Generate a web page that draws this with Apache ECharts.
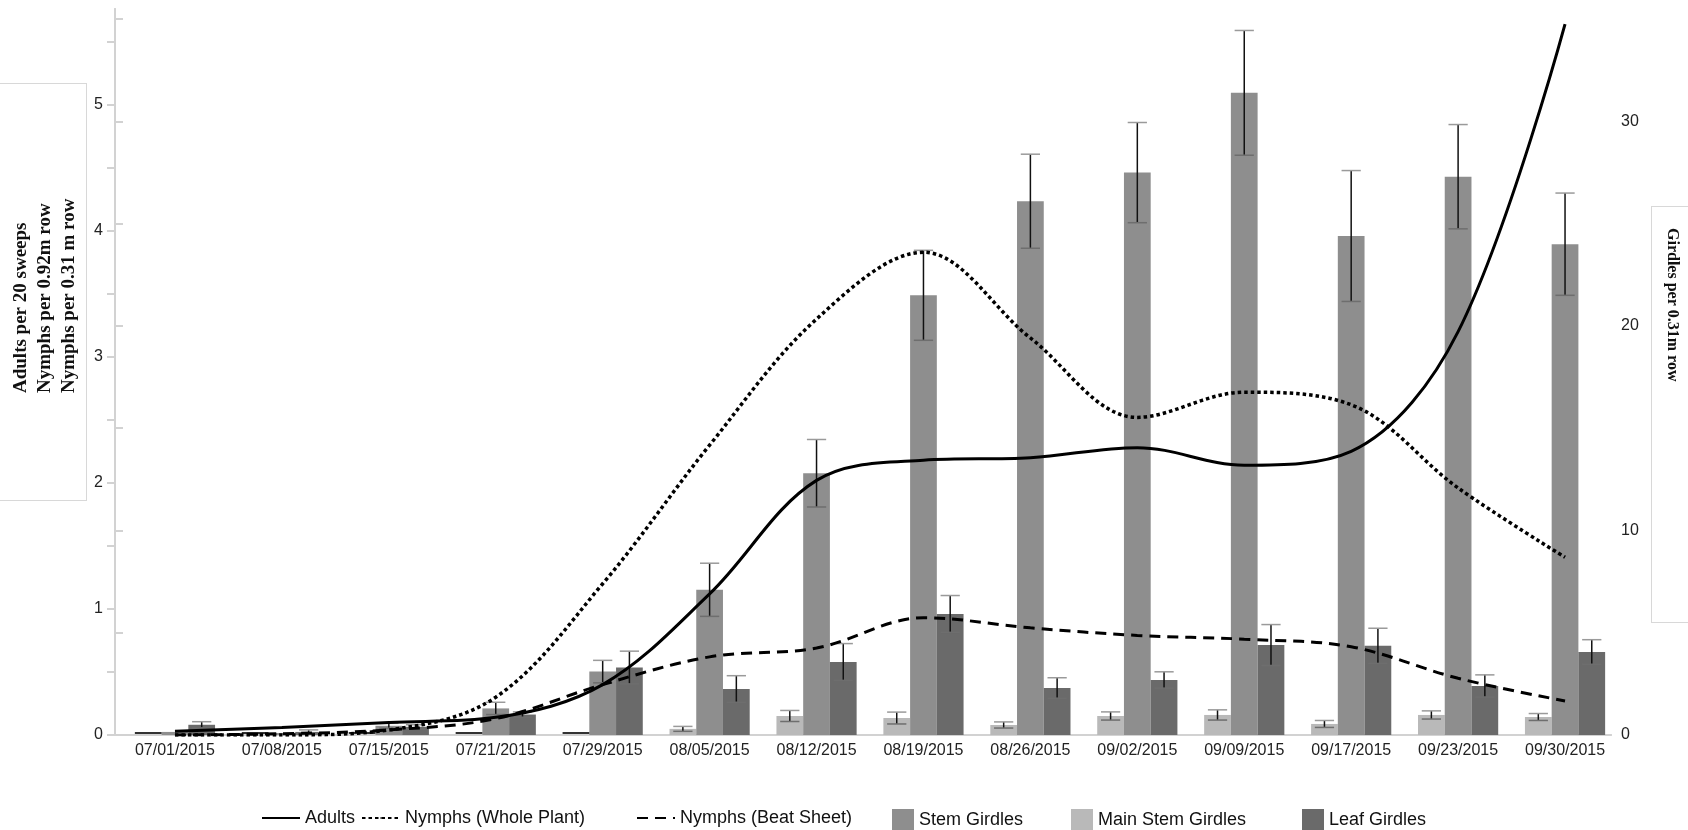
<!DOCTYPE html>
<html><head><meta charset="utf-8">
<script src="https://cdn.jsdelivr.net/npm/echarts@6/dist/echarts.min.js"></script>
<style>html,body{margin:0;padding:0;background:#fff}#c{width:1688px;height:830px}</style>
</head><body><div id="c"></div>
<script>
// ---- data ----
const dates = ['07/01/2015','07/08/2015','07/15/2015','07/21/2015','07/29/2015','08/05/2015','08/12/2015','08/19/2015','08/26/2015','09/02/2015','09/09/2015','09/17/2015','09/23/2015','09/30/2015'];
// left axis (insects)
const adults      = [0.03, 0.06, 0.10, 0.14, 0.40, 1.12, 2.02, 2.18, 2.20, 2.28, 2.14, 2.25, 3.20, 5.64];
const nymphsWhole = [0.00, 0.00, 0.04, 0.30, 1.20, 2.30, 3.30, 3.83, 3.15, 2.52, 2.72, 2.62, 1.96, 1.41];
const nymphsBeat  = [0.00, 0.01, 0.04, 0.13, 0.40, 0.62, 0.69, 0.93, 0.85, 0.79, 0.76, 0.70, 0.45, 0.27];
// right axis (girdles) values and standard errors
const mainStem    = [0, 0, 0, 0, 0, 0.30, 0.93, 0.83, 0.49, 0.93, 0.98, 0.54, 0.98, 0.88];
const mainStemErr = [0, 0, 0, 0, 0, 0.12, 0.27, 0.29, 0.15, 0.20, 0.25, 0.17, 0.20, 0.17];
const stemG       = [0.15, 0.10, 0.45, 1.30, 3.10, 7.10, 12.8, 21.5, 26.1, 27.5, 31.4, 24.4, 27.3, 24.0];
const stemGErr    = [0.00, 0.00, 0.12, 0.30, 0.55, 1.30, 1.65, 2.20, 2.30, 2.45, 3.05, 3.20, 2.55, 2.50];
const leafG       = [0.50, 0.15, 0.40, 1.00, 3.30, 2.25, 3.57, 5.92, 2.30, 2.69, 4.40, 4.36, 2.40, 4.06];
const leafGErr    = [0.15, 0.10, 0.10, 0.13, 0.80, 0.65, 0.90, 0.90, 0.50, 0.40, 1.00, 0.86, 0.54, 0.60];
const leftMax = 5.76, rightMax = 35.5;
const leftTickValues  = [0, 0.5, 1, 1.5, 2, 2.5, 3, 3.5, 4, 4.5, 5, 5.5];
const leftLabelValues = [0, 1, 2, 3, 4, 5];
const rightTickValues  = [0, 5, 10, 15, 20, 25, 30, 35];
const rightLabelValues = [0, 10, 20, 30];
const leftTitle = 'Adults per 20 sweeps\nNymphs per 0.92m row\nNymphs per 0.31 m row';
const rightTitle = 'Girdles per 0.31m row';

const FONT = '"Liberation Sans", Arial, sans-serif';
const SERIF = '"Liberation Serif", "Times New Roman", serif';
const axisGrey = '#d2d2d2';
const cMain = '#b9b9b9', cStem = '#8e8e8e', cLeaf = '#6a6a6a';

function errSeries(name, vals, errs, off) {
  return {
    type: 'custom', name: name + ' err', xAxisIndex: 2, yAxisIndex: 3, z: 5, silent: true,
    data: vals.map((v, i) => [i, v, errs[i]]),
    renderItem: function (params, api) {
      const i = api.value(0), v = api.value(1), e = api.value(2);
      const catW = api.size([1, 0])[0];
      const bw = catW * 0.25;
      const cx = api.coord([i, 0])[0] + off * bw;
      const children = [];
      if (v === 0) {
        const y0 = api.coord([i, 0])[1] - 2;
        children.push({ type: 'line', shape: { x1: cx - bw / 2, y1: y0, x2: cx + bw / 2, y2: y0 }, style: { stroke: '#333', lineWidth: 2 } });
        return { type: 'group', children };
      }
      if (e > 0) {
        const yt = api.coord([i, v + e])[1], yb = api.coord([i, Math.max(0, v - e)])[1];
        const cw = bw * 0.36;
        children.push({ type: 'line', shape: { x1: cx, y1: yt, x2: cx, y2: yb }, style: { stroke: '#111', lineWidth: 1.5 } });
        children.push({ type: 'line', shape: { x1: cx - cw, y1: yt, x2: cx + cw, y2: yt }, style: { stroke: '#9a9a9a', lineWidth: 1.5 } });
        children.push({ type: 'line', shape: { x1: cx - cw, y1: yb, x2: cx + cw, y2: yb }, style: { stroke: '#6e6e6e', lineWidth: 1.5 } });
      }
      return { type: 'group', children };
    }
  };
}

function legendFor(name, left, isLine) {
  return {
    data: [name], left: left, top: 804,
    itemWidth: isLine ? 38 : 22, itemHeight: isLine ? 2 : 22,
    icon: isLine ? undefined : 'rect',
    textStyle: { fontFamily: FONT, fontSize: 18, color: '#111' },
    selectedMode: false
  };
}

const option = {
  animation: false,
  backgroundColor: '#fff',
  grid: [
    { left: 115, right: 77, top: 9, bottom: 95 },
    { left: 121.5, right: 69.5, top: 9, bottom: 95 }
  ],
  xAxis: [
    { gridIndex: 0, type: 'value', min: 0, max: 1, position: 'bottom', axisLine: { show: true, lineStyle: { color: axisGrey, width: 2 } }, axisTick: { show: false }, axisLabel: { show: false }, splitLine: { show: false } },
    { gridIndex: 0, type: 'value', min: 0, max: 1, position: 'top', axisLine: { show: true, lineStyle: { color: axisGrey, width: 2 } }, axisTick: { show: false }, axisLabel: { show: false }, splitLine: { show: false } },
    { gridIndex: 1, type: 'category', data: dates, boundaryGap: true, axisLine: { show: false }, axisTick: { show: false }, splitLine: { show: false },
      axisLabel: { interval: 0, margin: 8, fontFamily: FONT, fontSize: 16, color: '#222' } }
  ],
  yAxis: [
    { gridIndex: 0, type: 'value', min: 0, max: leftMax, position: 'left',
      axisLine: { show: true, lineStyle: { color: axisGrey, width: 2 } },
      axisTick: { show: true, length: 8, customValues: leftTickValues, lineStyle: { color: axisGrey, width: 2 } },
      axisLabel: { margin: 12, customValues: leftLabelValues, fontFamily: FONT, fontSize: 16, color: '#222' },
      splitLine: { show: false } },
    { gridIndex: 0, type: 'value', min: 0, max: rightMax, position: 'right',
      axisLine: { show: true, lineStyle: { color: axisGrey, width: 2 } },
      axisTick: { show: true, length: 8, customValues: rightTickValues, lineStyle: { color: axisGrey, width: 2 } },
      axisLabel: { margin: 10, customValues: rightLabelValues, fontFamily: FONT, fontSize: 16, color: '#222' },
      splitLine: { show: false } },
    { gridIndex: 1, type: 'value', min: 0, max: leftMax, show: false },
    { gridIndex: 1, type: 'value', min: 0, max: rightMax, show: false }
  ],
  legend: [
    legendFor('Adults', 256, true),
    legendFor('Nymphs (Whole Plant)', 356, true),
    legendFor('Nymphs (Beat Sheet)', 631, true),
    legendFor('Stem Girdles', 887, false),
    legendFor('Main Stem Girdles', 1066, false),
    legendFor('Leaf Girdles', 1297, false)
  ],
  graphic: [
    { type: 'text', x: -5, y: 500, rotation: Math.PI / 2, z: 10,
      style: { text: leftTitle, font: 'bold 19px ' + SERIF, fill: '#111', align: 'left', verticalAlign: 'top', lineHeight: 24,
        width: 301, padding: [14, 8, 5, 107], borderColor: '#d8d8d8', borderWidth: 1, backgroundColor: '#fff' } },
    { type: 'text', x: 1693, y: 207, rotation: -Math.PI / 2, z: 10,
      style: { text: rightTitle, font: 'bold 16px ' + SERIF, fill: '#111', align: 'left', verticalAlign: 'top', lineHeight: 24,
        width: 386, padding: [9, 8, 8, 21], borderColor: '#d8d8d8', borderWidth: 1, backgroundColor: '#fff' } }
  ],
  series: [
    { name: 'Main Stem Girdles', type: 'bar', xAxisIndex: 2, yAxisIndex: 3, data: mainStem, barWidth: '25%', barGap: '0%', itemStyle: { color: cMain }, z: 2 },
    { name: 'Stem Girdles', type: 'bar', xAxisIndex: 2, yAxisIndex: 3, data: stemG, barWidth: '25%', barGap: '0%', itemStyle: { color: cStem }, z: 2 },
    { name: 'Leaf Girdles', type: 'bar', xAxisIndex: 2, yAxisIndex: 3, data: leafG, barWidth: '25%', barGap: '0%', itemStyle: { color: cLeaf }, z: 2 },
    errSeries('Main Stem Girdles', mainStem, mainStemErr, -1),
    errSeries('Stem Girdles', stemG, stemGErr, 0),
    errSeries('Leaf Girdles', leafG, leafGErr, 1),
    { name: 'Adults', type: 'line', xAxisIndex: 2, yAxisIndex: 2, data: adults, smooth: 0.35, symbol: 'none', z: 8,
      lineStyle: { color: '#000', width: 3, type: 'solid' }, itemStyle: { color: '#000' } },
    { name: 'Nymphs (Whole Plant)', type: 'line', xAxisIndex: 2, yAxisIndex: 2, data: nymphsWhole, smooth: 0.35, symbol: 'none', z: 8,
      lineStyle: { color: '#000', width: 3.5, type: [3.5, 3] }, itemStyle: { color: '#000' } },
    { name: 'Nymphs (Beat Sheet)', type: 'line', xAxisIndex: 2, yAxisIndex: 2, data: nymphsBeat, smooth: 0.35, symbol: 'none', z: 8,
      lineStyle: { color: '#000', width: 3, type: [11, 7] }, itemStyle: { color: '#000' } }
  ]
};
const chart = echarts.init(document.getElementById('c'), null, { renderer: 'canvas' });
chart.setOption(option);
</script></body></html>
